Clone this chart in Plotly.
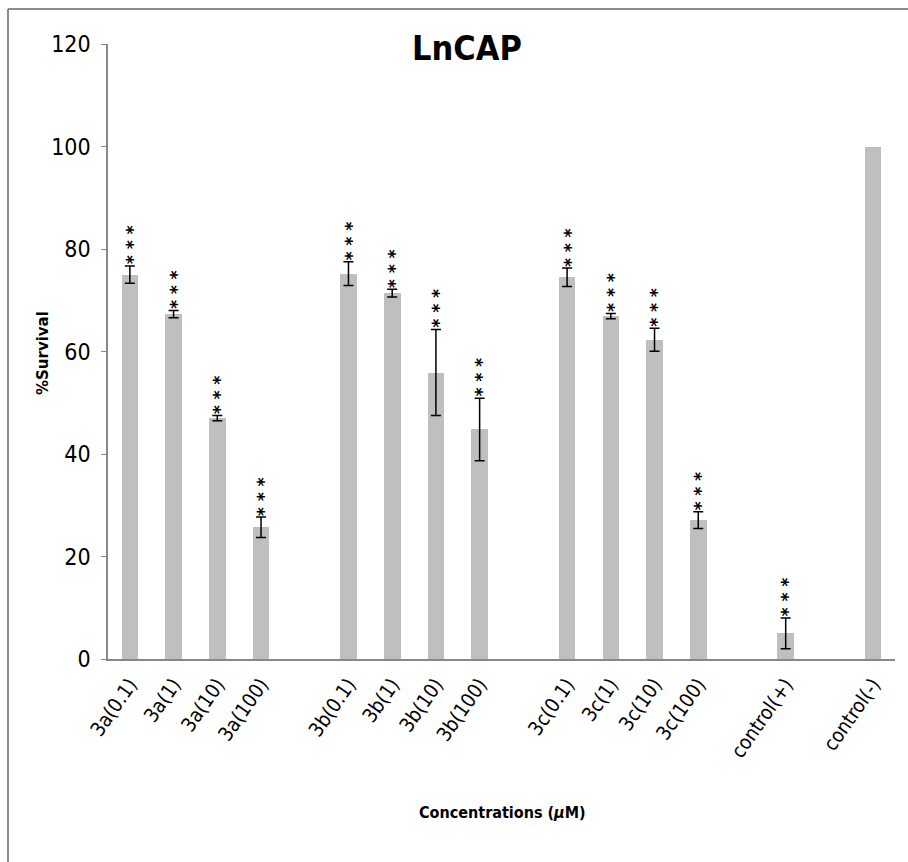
import plotly.graph_objects as go

categories = ["3a(0.1)", "3a(1)", "3a(10)", "3a(100)",
              "3b(0.1)", "3b(1)", "3b(10)", "3b(100)",
              "3c(0.1)", "3c(1)", "3c(10)", "3c(100)",
              "control(+)", "control(-)"]
# slot positions (empty slot between groups)
positions = [0, 1, 2, 3, 5, 6, 7, 8, 10, 11, 12, 13, 15, 17]
survival = [75.0, 67.3, 47.0, 25.7,
            75.2, 71.4, 55.9, 44.8,
            74.5, 66.9, 62.3, 27.1,
            5.0, 100.0]
errors = [1.7, 0.7, 0.5, 2.0,
          2.3, 0.75, 8.4, 6.1,
          1.8, 0.5, 2.25, 1.65,
          3.0, None]
significance = ["***"] * 13 + [""]

FONT = "DejaVu Sans Condensed, DejaVu Sans, sans-serif"

fig = go.Figure()
fig.add_trace(go.Bar(
    x=positions, y=survival, width=0.38,
    marker=dict(color="#BFBFBF", line=dict(width=0)),
    showlegend=False, hoverinfo="skip",
))

err_x = [p for p, e in zip(positions, errors) if e is not None]
err_y = [v for v, e in zip(survival, errors) if e is not None]
err_e = [e for e in errors if e is not None]
fig.add_trace(go.Scatter(
    x=err_x, y=err_y, mode="markers", marker=dict(size=0.1, opacity=0),
    error_y=dict(type="data", array=err_e, visible=True,
                 color="black", thickness=1.5, width=5),
    showlegend=False,
))

for p, v, e, s in zip(positions, survival, errors, significance):
    if s:
        fig.add_annotation(
            x=p, y=v + e, xref="x", yref="y",
            text="<b>" + " ".join(s) + "</b>", showarrow=False, textangle=90,
            yanchor="bottom", xanchor="center", yshift=-1, xshift=-3,
            font=dict(family="DejaVu Sans, sans-serif", size=17, color="black"),
        )

PW, PH = 787, 615
def px(x):
    return (x - 108) / PW
def py(y):
    return 1 - (y - 44) / PH

fig.add_annotation(x=px(467), y=py(48), xref="paper", yref="paper", text="<b>LnCAP</b>",
                   showarrow=False, yanchor="middle",
                   font=dict(family=FONT, size=34, color="black"))
fig.add_annotation(x=px(502), y=py(812), xref="paper", yref="paper",
                   text="<b>Concentrations (<i>μ</i>M)</b>", showarrow=False, yanchor="middle",
                   font=dict(family=FONT, size=16, color="black"))
fig.add_annotation(x=px(43), y=py(353), xref="paper", yref="paper",
                   text="<b>%Survival</b>", showarrow=False, textangle=-90,
                   xanchor="center", yanchor="middle",
                   font=dict(family="DejaVu Sans, Verdana, sans-serif", size=15, color="black"))

fig.update_layout(
    width=908, height=862,
    margin=dict(l=108, r=13, t=44, b=203),
    plot_bgcolor="white", paper_bgcolor="white",
    bargap=0,
    xaxis=dict(
        range=[-0.5, 17.5], tickmode="array", tickvals=positions, ticktext=categories,
        tickangle=-55, ticks="", showgrid=False, zeroline=False,
        showline=True, linecolor="#888888", linewidth=1.5,
        tickfont=dict(family=FONT, size=20, color="black"),
        ticklabelstandoff=4,
    ),
    yaxis=dict(
        range=[0, 120], dtick=20, ticks="outside", ticklen=5, tickcolor="#888888",
        showgrid=False, zeroline=False,
        showline=True, linecolor="#888888", linewidth=1.5,
        tickfont=dict(family=FONT, size=23, color="black"),
        ticklabelstandoff=6,
    ),
    shapes=[
        dict(type="line", xref="paper", yref="paper", x0=px(8), x1=px(910),
             y0=py(9), y1=py(9), line=dict(color="#8C8C8C", width=2)),
        dict(type="line", xref="paper", yref="paper", x0=px(8), x1=px(8),
             y0=py(9), y1=py(864), line=dict(color="#8C8C8C", width=2)),
    ],
)

fig.write_html("out.html")
